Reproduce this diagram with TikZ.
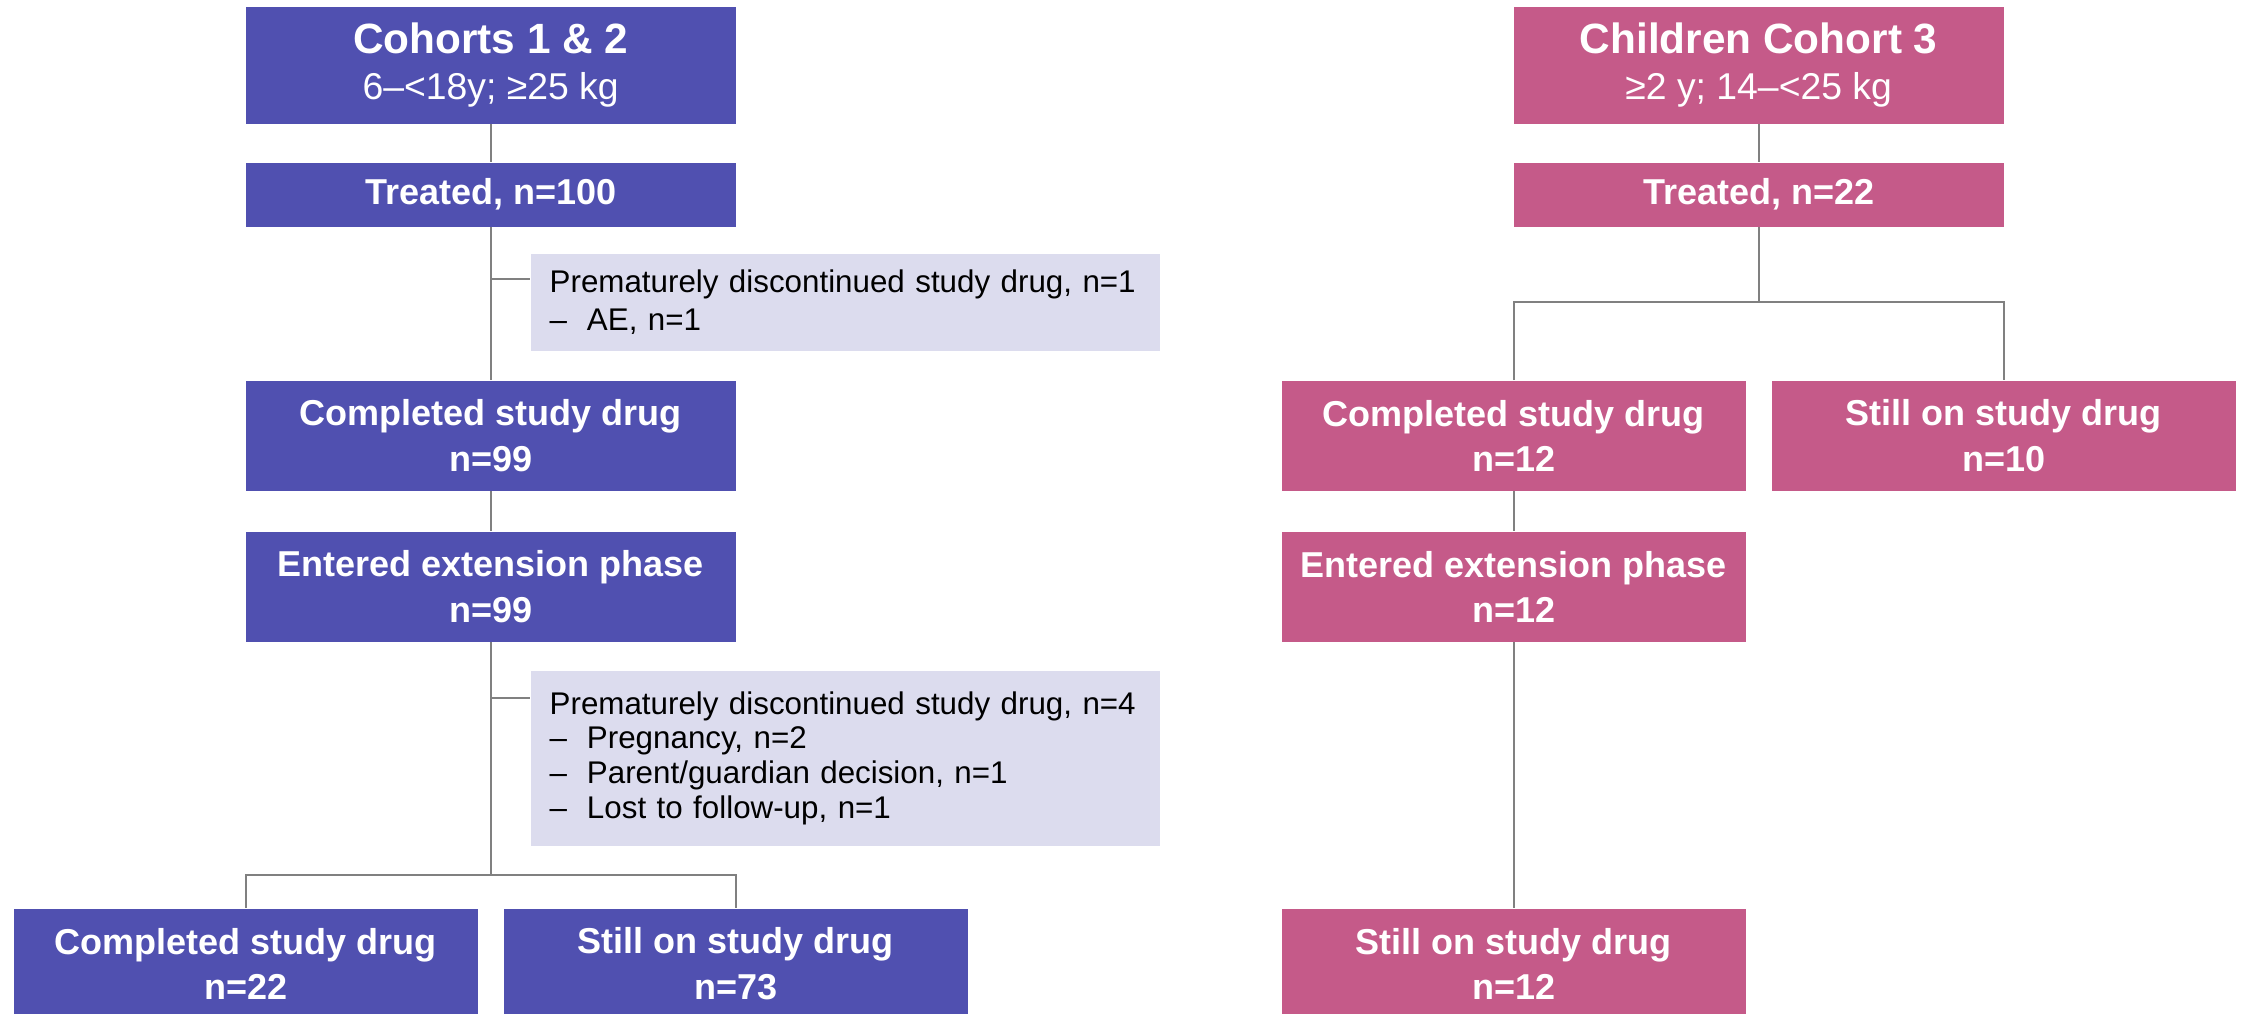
\documentclass[tikz,border=0pt]{standalone}
\usepackage{fontspec}
\setmainfont{Liberation Sans}
\definecolor{cpurp}{RGB}{80,80,176}
\definecolor{cpink}{RGB}{197,90,137}
\definecolor{cgrey}{RGB}{220,220,238}
\definecolor{cline}{RGB}{128,128,128}
\newcommand{\dashitem}[1]{\mbox{\makebox[11.2pt][l]{–}#1}}
\begin{document}
\begin{tikzpicture}[x=0.3pt,y=-0.3pt,
  box/.style={inner sep=0pt, align=center, text=white, anchor=north west,
    font=\bfseries\fontsize{10.8}{13.6}\selectfont},
  pbox/.style={box, fill=cpurp},
  kbox/.style={box, fill=cpink},
  colw/.style={minimum width={490*0.3pt}},
  lowc/.style={minimum width={464*0.3pt}},
  tall/.style={minimum height={110*0.3pt}},
  short/.style={minimum height={64*0.3pt}},
  head/.style={minimum height={117*0.3pt}},
  note/.style={fill=cgrey, inner sep=0pt, anchor=north west, text=black,
    minimum width={629*0.3pt}, text width={591*0.3pt}, align=left,
    font=\fontsize{9.4}{10.4}\selectfont},
  conn/.style={draw=cline, line width=0.6pt}
]
\useasboundingbox (0,0) rectangle (2244,1013);
% ---- left column ----
\node[pbox,colw,head] (c12) at (245,6) {{\fontsize{12.7}{14.6}\selectfont Cohorts 1 \& 2}\\[0.3pt]{\mdseries\fontsize{11.2}{14.6}\selectfont 6–<18y; ≥25 kg}};
\node[pbox,colw,short] (t100) at (245,162) {Treated, n=100};
\node[note,minimum height={97*0.3pt},font=\fontsize{9.4}{11.6}\selectfont] (g1) at (530,253) {\mbox{Prematurely discontinued study drug, n=1}\\\dashitem{AE, n=1}};
\node[pbox,colw,tall] (cd99) at (245,380) {Completed study drug\\n=99};
\node[pbox,colw,tall] (ex99) at (245,531) {Entered extension phase\\n=99};
\node[note,minimum height={175*0.3pt}] (g2) at (530,670) {\mbox{Prematurely discontinued study drug, n=4}\\\dashitem{Pregnancy, n=2}\\\dashitem{Parent/guardian decision, n=1}\\\dashitem{Lost to follow-up, n=1}};
\node[pbox,lowc,tall] (cd22) at (13,908) {Completed study drug\\n=22};
\node[pbox,lowc,tall] (so73) at (503,908) {Still on study drug\\n=73};
% ---- right column ----
\node[kbox,colw,head] (ch3) at (1513,6) {{\fontsize{12.7}{14.6}\selectfont Children Cohort 3}\\[0.3pt]{\mdseries\fontsize{11.2}{14.6}\selectfont ≥2 y; 14–<25 kg}};
\node[kbox,colw,short] (t22) at (1513,162) {Treated, n=22};
\node[kbox,lowc,tall] (cd12) at (1281,380) {Completed study drug\\n=12};
\node[kbox,lowc,tall] (so10) at (1771,380) {Still on study drug\\n=10};
\node[kbox,lowc,tall] (ex12) at (1281,531) {Entered extension phase\\n=12};
\node[kbox,lowc,tall] (so12) at (1281,908) {Still on study drug\\n=12};
% ---- connectors left ----
\coordinate (s1) at (t100.south |- 0,279);
\coordinate (s2) at (t100.south |- 0,698);
\coordinate (bl) at (ex99.south |- 0,875);
\draw[conn] (c12.south) -- (t100.north);
\draw[conn] (t100.south) -- (cd99.north);
\draw[conn] (s1) -- (s1 -| g1.west);
\draw[conn] (cd99.south) -- (ex99.north);
\draw[conn] (ex99.south) -- (bl);
\draw[conn] (s2) -- (s2 -| g2.west);
\draw[conn] (cd22.north) |- (bl) -| (so73.north);
% ---- connectors right ----
\coordinate (br) at (t22.south |- 0,302);
\draw[conn] (ch3.south) -- (t22.north);
\draw[conn] (t22.south) -- (br);
\draw[conn] (cd12.north) |- (br) -| (so10.north);
\draw[conn] (cd12.south) -- (ex12.north);
\draw[conn] (ex12.south) -- (so12.north);
\end{tikzpicture}
\end{document}
